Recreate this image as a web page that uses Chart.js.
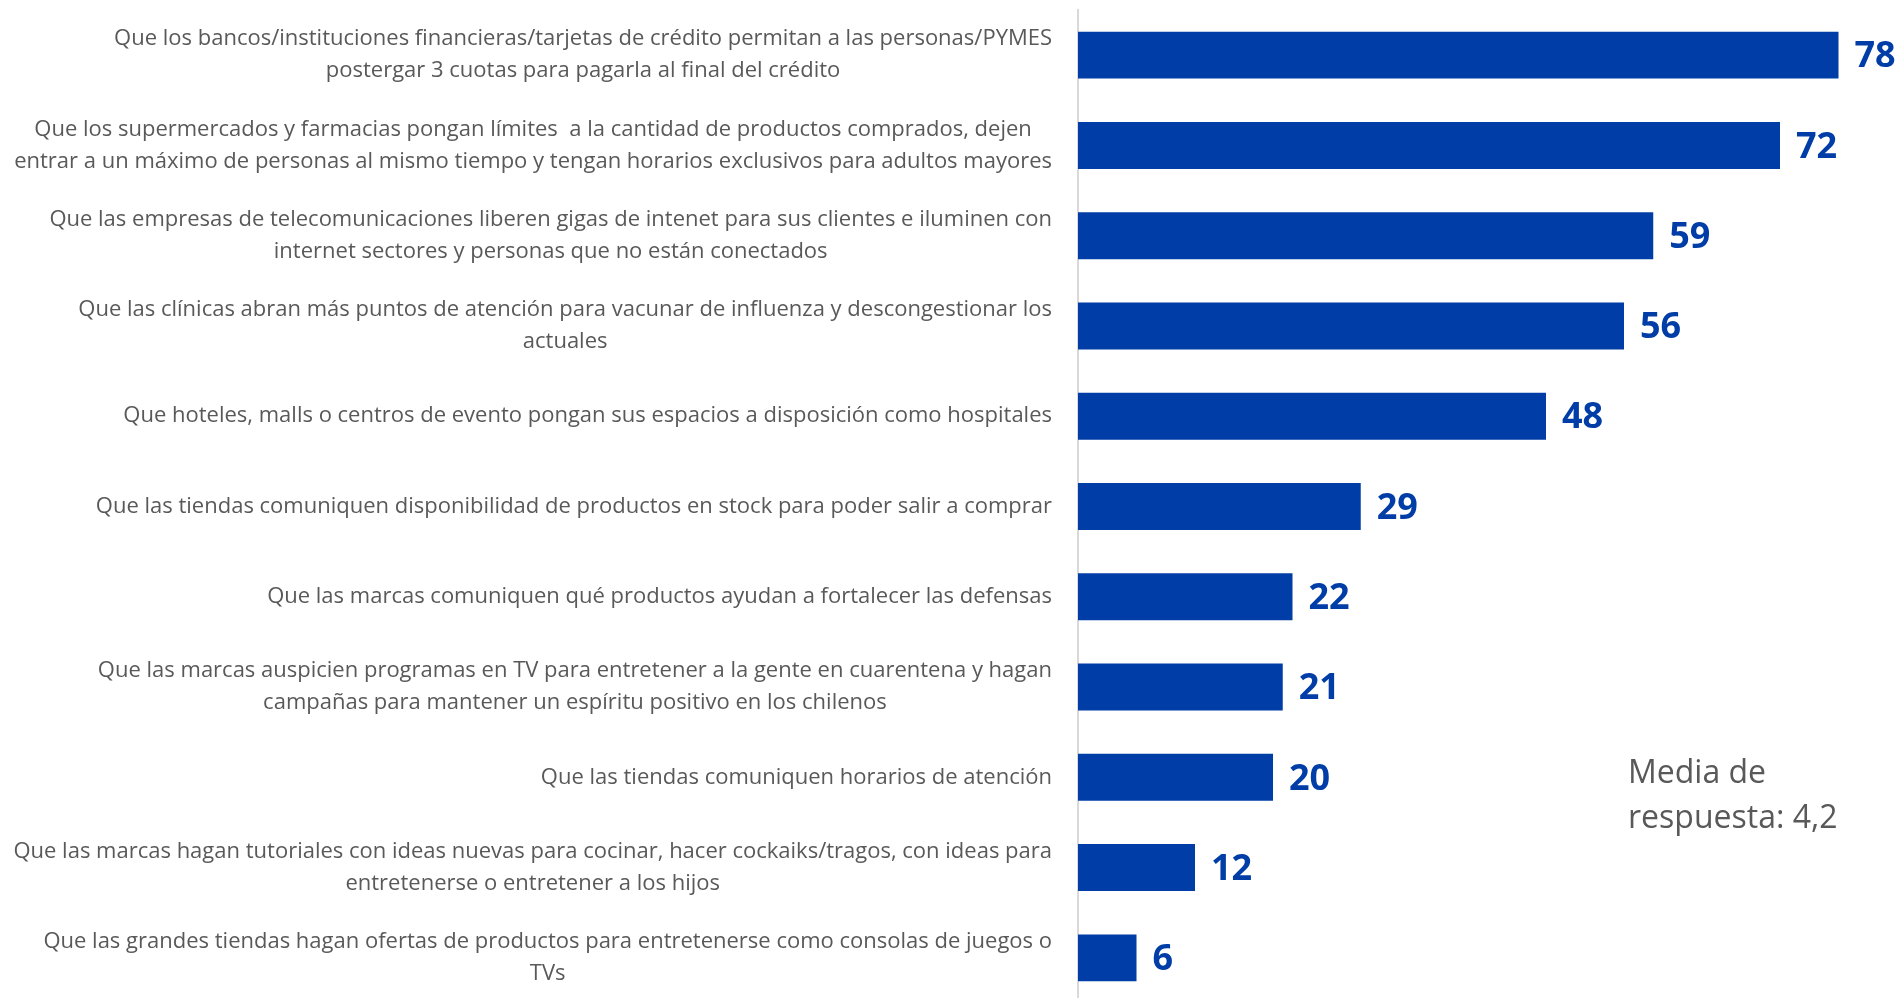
<!DOCTYPE html>
<html>
<head>
<meta charset="utf-8">
<script src="https://cdn.jsdelivr.net/npm/chart.js@4/dist/chart.umd.min.js"></script>
<style>
	html, body { margin: 0; padding: 0; background: #fff; overflow: hidden; }
	#contenedor { width: 1901px; height: 1003px; position: relative; }
</style>
</head>
<body>
<div id="contenedor"><canvas id="grafico-acciones"></canvas></div>
<script>
	// etiquetas de cada barra, ya cortadas en líneas
	var etiquetas = [
		['Que los bancos/instituciones financieras/tarjetas de crédito permitan a las personas/PYMES', 'postergar 3 cuotas para pagarla al final del crédito'],
		['Que los supermercados y farmacias pongan límites  a la cantidad de productos comprados, dejen', 'entrar a un máximo de personas al mismo tiempo y tengan horarios exclusivos para adultos mayores'],
		['Que las empresas de telecomunicaciones liberen gigas de intenet para sus clientes e iluminen con', 'internet sectores y personas que no están conectados'],
		['Que las clínicas abran más puntos de atención para vacunar de influenza y descongestionar los', 'actuales'],
		['Que hoteles, malls o centros de evento pongan sus espacios a disposición como hospitales'],
		['Que las tiendas comuniquen disponibilidad de productos en stock para poder salir a comprar'],
		['Que las marcas comuniquen qué productos ayudan a fortalecer las defensas'],
		['Que las marcas auspicien programas en TV para entretener a la gente en cuarentena y hagan', 'campañas para mantener un espíritu positivo en los chilenos'],
		['Que las tiendas comuniquen horarios de atención'],
		['Que las marcas hagan tutoriales con ideas nuevas para cocinar, hacer cockaiks/tragos, con ideas para', 'entretenerse o entretener a los hijos'],
		['Que las grandes tiendas hagan ofertas de productos para entretenerse como consolas de juegos o', 'TVs']
	];

	var valores = [78, 72, 59, 56, 48, 29, 22, 21, 20, 12, 6];

	var nota = ['Media de', 'respuesta: 4,2'];

	var azul = '#003DA6';
	var gris = '#595959';
	var fuente = "'Open Sans', sans-serif";

	// etiquetas de la izquierda: bloque alineado a la derecha, líneas centradas entre sí
	var pluginEtiquetas = {
		id: 'etiquetasIzquierda',
		afterDraw: function (chart) {
			var ctx = chart.ctx;
			var ejeY = chart.scales.y;
			var bordeDerecho = chart.chartArea.left - 26;
			var altoLinea = 32;
			ctx.save();
			ctx.font = '22px ' + fuente;
			ctx.fillStyle = gris;
			ctx.textAlign = 'center';
			ctx.textBaseline = 'middle';
			for (var i = 0; i < etiquetas.length; i++) {
				var lineas = etiquetas[i];
				var ancho = 0;
				for (var j = 0; j < lineas.length; j++) {
					ancho = Math.max(ancho, ctx.measureText(lineas[j]).width);
				}
				var centroX = bordeDerecho - ancho / 2;
				var y = ejeY.getPixelForTick(i);
				var inicio = y - (lineas.length - 1) * altoLinea / 2;
				for (var k = 0; k < lineas.length; k++) {
					ctx.fillText(lineas[k], centroX, inicio + k * altoLinea);
				}
			}
			ctx.restore();
		}
	};

	// números al final de cada barra
	var pluginValores = {
		id: 'valoresBarras',
		afterDatasetsDraw: function (chart) {
			var ctx = chart.ctx;
			var barras = chart.getDatasetMeta(0).data;
			ctx.save();
			ctx.font = 'bold 36px ' + fuente;
			ctx.fillStyle = azul;
			ctx.textAlign = 'left';
			ctx.textBaseline = 'middle';
			for (var i = 0; i < barras.length; i++) {
				ctx.fillText(valores[i], barras[i].x + 16, barras[i].y + 2);
			}
			ctx.restore();
		}
	};

	// recuadro con la media de respuesta
	var pluginNota = {
		id: 'notaMedia',
		afterDraw: function (chart) {
			var ctx = chart.ctx;
			ctx.save();
			ctx.font = '32px ' + fuente;
			ctx.fillStyle = gris;
			ctx.textAlign = 'left';
			ctx.textBaseline = 'middle';
			for (var i = 0; i < nota.length; i++) {
				ctx.fillText(nota[i], 1628, 774 + i * 45);
			}
			ctx.restore();
		}
	};

	var ctx = document.getElementById('grafico-acciones');
	var chart = new Chart(ctx, {
		type: 'bar',
		data: {
			labels: etiquetas,
			datasets: [{
				data: valores,
				backgroundColor: azul,
				borderWidth: 0,
				categoryPercentage: 1,
				barPercentage: 0.52
			}]
		},
		options: {
			indexAxis: 'y',
			responsive: true,
			maintainAspectRatio: false,
			animation: false,
			layout: { padding: { top: 10, right: 43, bottom: 0, left: 0 } },
			plugins: {
				legend: { display: false },
				tooltip: { enabled: false }
			},
			scales: {
				x: {
					display: false,
					min: 0,
					max: 80
				},
				y: {
					grid: { display: false, drawTicks: false },
					border: { display: true, color: '#D9D9D9', width: 2 },
					ticks: { display: false },
					afterFit: function (escala) {
						escala.width = 1078;
					}
				}
			}
		},
		plugins: [pluginEtiquetas, pluginValores, pluginNota]
	});
</script>
</body>
</html>
